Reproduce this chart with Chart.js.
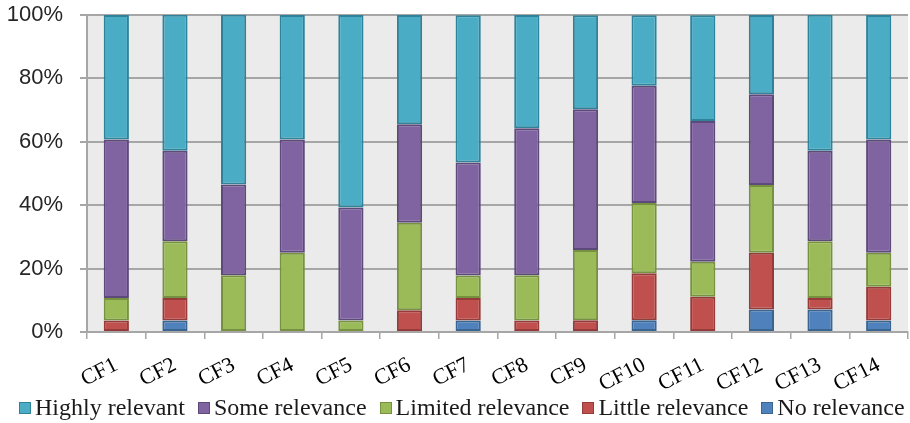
<!DOCTYPE html>
<html>
<head>
<meta charset="utf-8">
<script src="https://cdn.jsdelivr.net/npm/chart.js@4/dist/chart.umd.min.js"></script>
<style>
  html, body { margin: 0; padding: 0; background: #fff; }
  #wrap { position: relative; width: 910px; height: 423px; }
  #legend {
    position: absolute; left: 19px; top: 393px;
    display: flex; align-items: center;
    font-family: 'Liberation Serif', serif; font-size: 24px; color: #1a1a1a;
    white-space: nowrap; line-height: 28px;
  }
  #legend .item { display: flex; align-items: center; margin-right: 13px; }
  #legend .box { width: 10px; height: 10px; border: 1px solid; margin-right: 4px; margin-top: 2px; }
</style>
</head>
<body>
<div id="wrap">
  <canvas id="relevanceChart"></canvas>
  <div id="legend"></div>
</div>
<script>
const categories = ['CF1', 'CF2', 'CF3', 'CF4', 'CF5', 'CF6', 'CF7', 'CF8', 'CF9', 'CF10', 'CF11', 'CF12', 'CF13', 'CF14'];

// share of answers per factor, in percent
const noRelevance      = [0,    3.6,  0,    0,    0,    0,    3.6,  0,    0,    3.7,  0,    7.1,  7.1,  3.6];
const littleRelevance  = [3.6,  7.1,  0,    0,    0,    6.9,  7.1,  3.6,  3.7,  14.8, 11.1, 17.9, 3.6,  10.7];
const limitedRelevance = [7.1,  17.9, 17.9, 25.0, 3.6,  27.6, 7.1,  14.3, 22.2, 22.2, 11.1, 21.4, 17.9, 10.7];
const someRelevance    = [50.0, 28.6, 28.6, 35.7, 35.7, 31.0, 35.7, 46.4, 44.4, 37.0, 44.4, 28.6, 28.6, 35.7];
const highlyRelevant   = [39.3, 42.9, 53.6, 39.3, 60.7, 34.5, 46.4, 35.7, 29.6, 22.2, 33.3, 25.0, 42.9, 39.3];

const yTicks = [0, 20, 40, 60, 80, 100];

function makeSet(label, data, fill, edge) {
    return {
        label: label,
        data: data,
        backgroundColor: fill,
        borderColor: edge,
        borderWidth: 2,
        borderSkipped: false,
        barPercentage: 0.43,
        categoryPercentage: 1
    };
}

// grey plot area behind the bars
const plotBackground = {
    id: 'plotBackground',
    beforeDraw(chart) {
        const { ctx, chartArea } = chart;
        ctx.save();
        ctx.fillStyle = '#ebebeb';
        ctx.fillRect(chartArea.left, chartArea.top, chartArea.right - chartArea.left, chartArea.bottom - chartArea.top);
        ctx.restore();
    }
};

const ctx = document.getElementById('relevanceChart').getContext('2d');
const chart = new Chart(ctx, {
    type: 'bar',
    data: {
        labels: categories,
        datasets: [
            makeSet('No relevance', noRelevance, '#4f81bd', '#3b6591'),
            makeSet('Little relevance', littleRelevance, '#c0504d', '#953c3a'),
            makeSet('Limited relevance', limitedRelevance, '#9bbb59', '#76913f'),
            makeSet('Some relevance', someRelevance, '#8064a2', '#5e4a7a'),
            makeSet('Highly relevant', highlyRelevant, '#4bacc6', '#2e8299')
        ]
    },
    options: {
        responsive: true,
        maintainAspectRatio: false,
        animation: false,
        layout: { padding: { top: 0, right: 2, left: 0, bottom: 27 } },
        plugins: {
            tooltip: { enabled: false },
            legend: { display: false }
        },
        scales: {
            x: {
                stacked: true,
                offset: true,
                grid: {
                    offset: true,
                    drawOnChartArea: false,
                    drawTicks: true,
                    tickLength: 7,
                    color: '#a6a6a6',
                    lineWidth: 1.5
                },
                border: { color: '#a6a6a6', width: 2 },
                ticks: {
                    minRotation: 27,
                    maxRotation: 27,
                    autoSkip: false,
                    color: '#000',
                    padding: 13,
                    font: { family: 'Liberation Serif', size: 22 }
                },
                afterFit(scale) { scale.height = 64; }
            },
            y: {
                stacked: true,
                min: 0,
                max: 100,
                afterBuildTicks(scale) { scale.ticks = yTicks.map(v => ({ value: v })); },
                grid: {
                    color: '#a6a6a6',
                    lineWidth: 2,
                    tickLength: 7
                },
                border: { color: '#a6a6a6', width: 2 },
                ticks: {
                    color: '#262626',
                    padding: 17,
                    font: { family: 'Liberation Sans', size: 22 },
                    callback: v => v + '%'
                },
                afterFit(scale) {
                    scale.width = 87;
                    scale.paddingTop = 15;
                    scale.paddingBottom = 0;
                }
            }
        }
    },
    plugins: [plotBackground]
});

// legend in the same order as the reference: top series first
const legendBox = document.getElementById('legend');
chart.data.datasets.slice().reverse().forEach(ds => {
    const item = document.createElement('span');
    item.className = 'item';
    item.innerHTML = `<span class="box" style="background:${ds.backgroundColor};border-color:${ds.borderColor}"></span>${ds.label}`;
    legendBox.appendChild(item);
});
</script>
</body>
</html>
